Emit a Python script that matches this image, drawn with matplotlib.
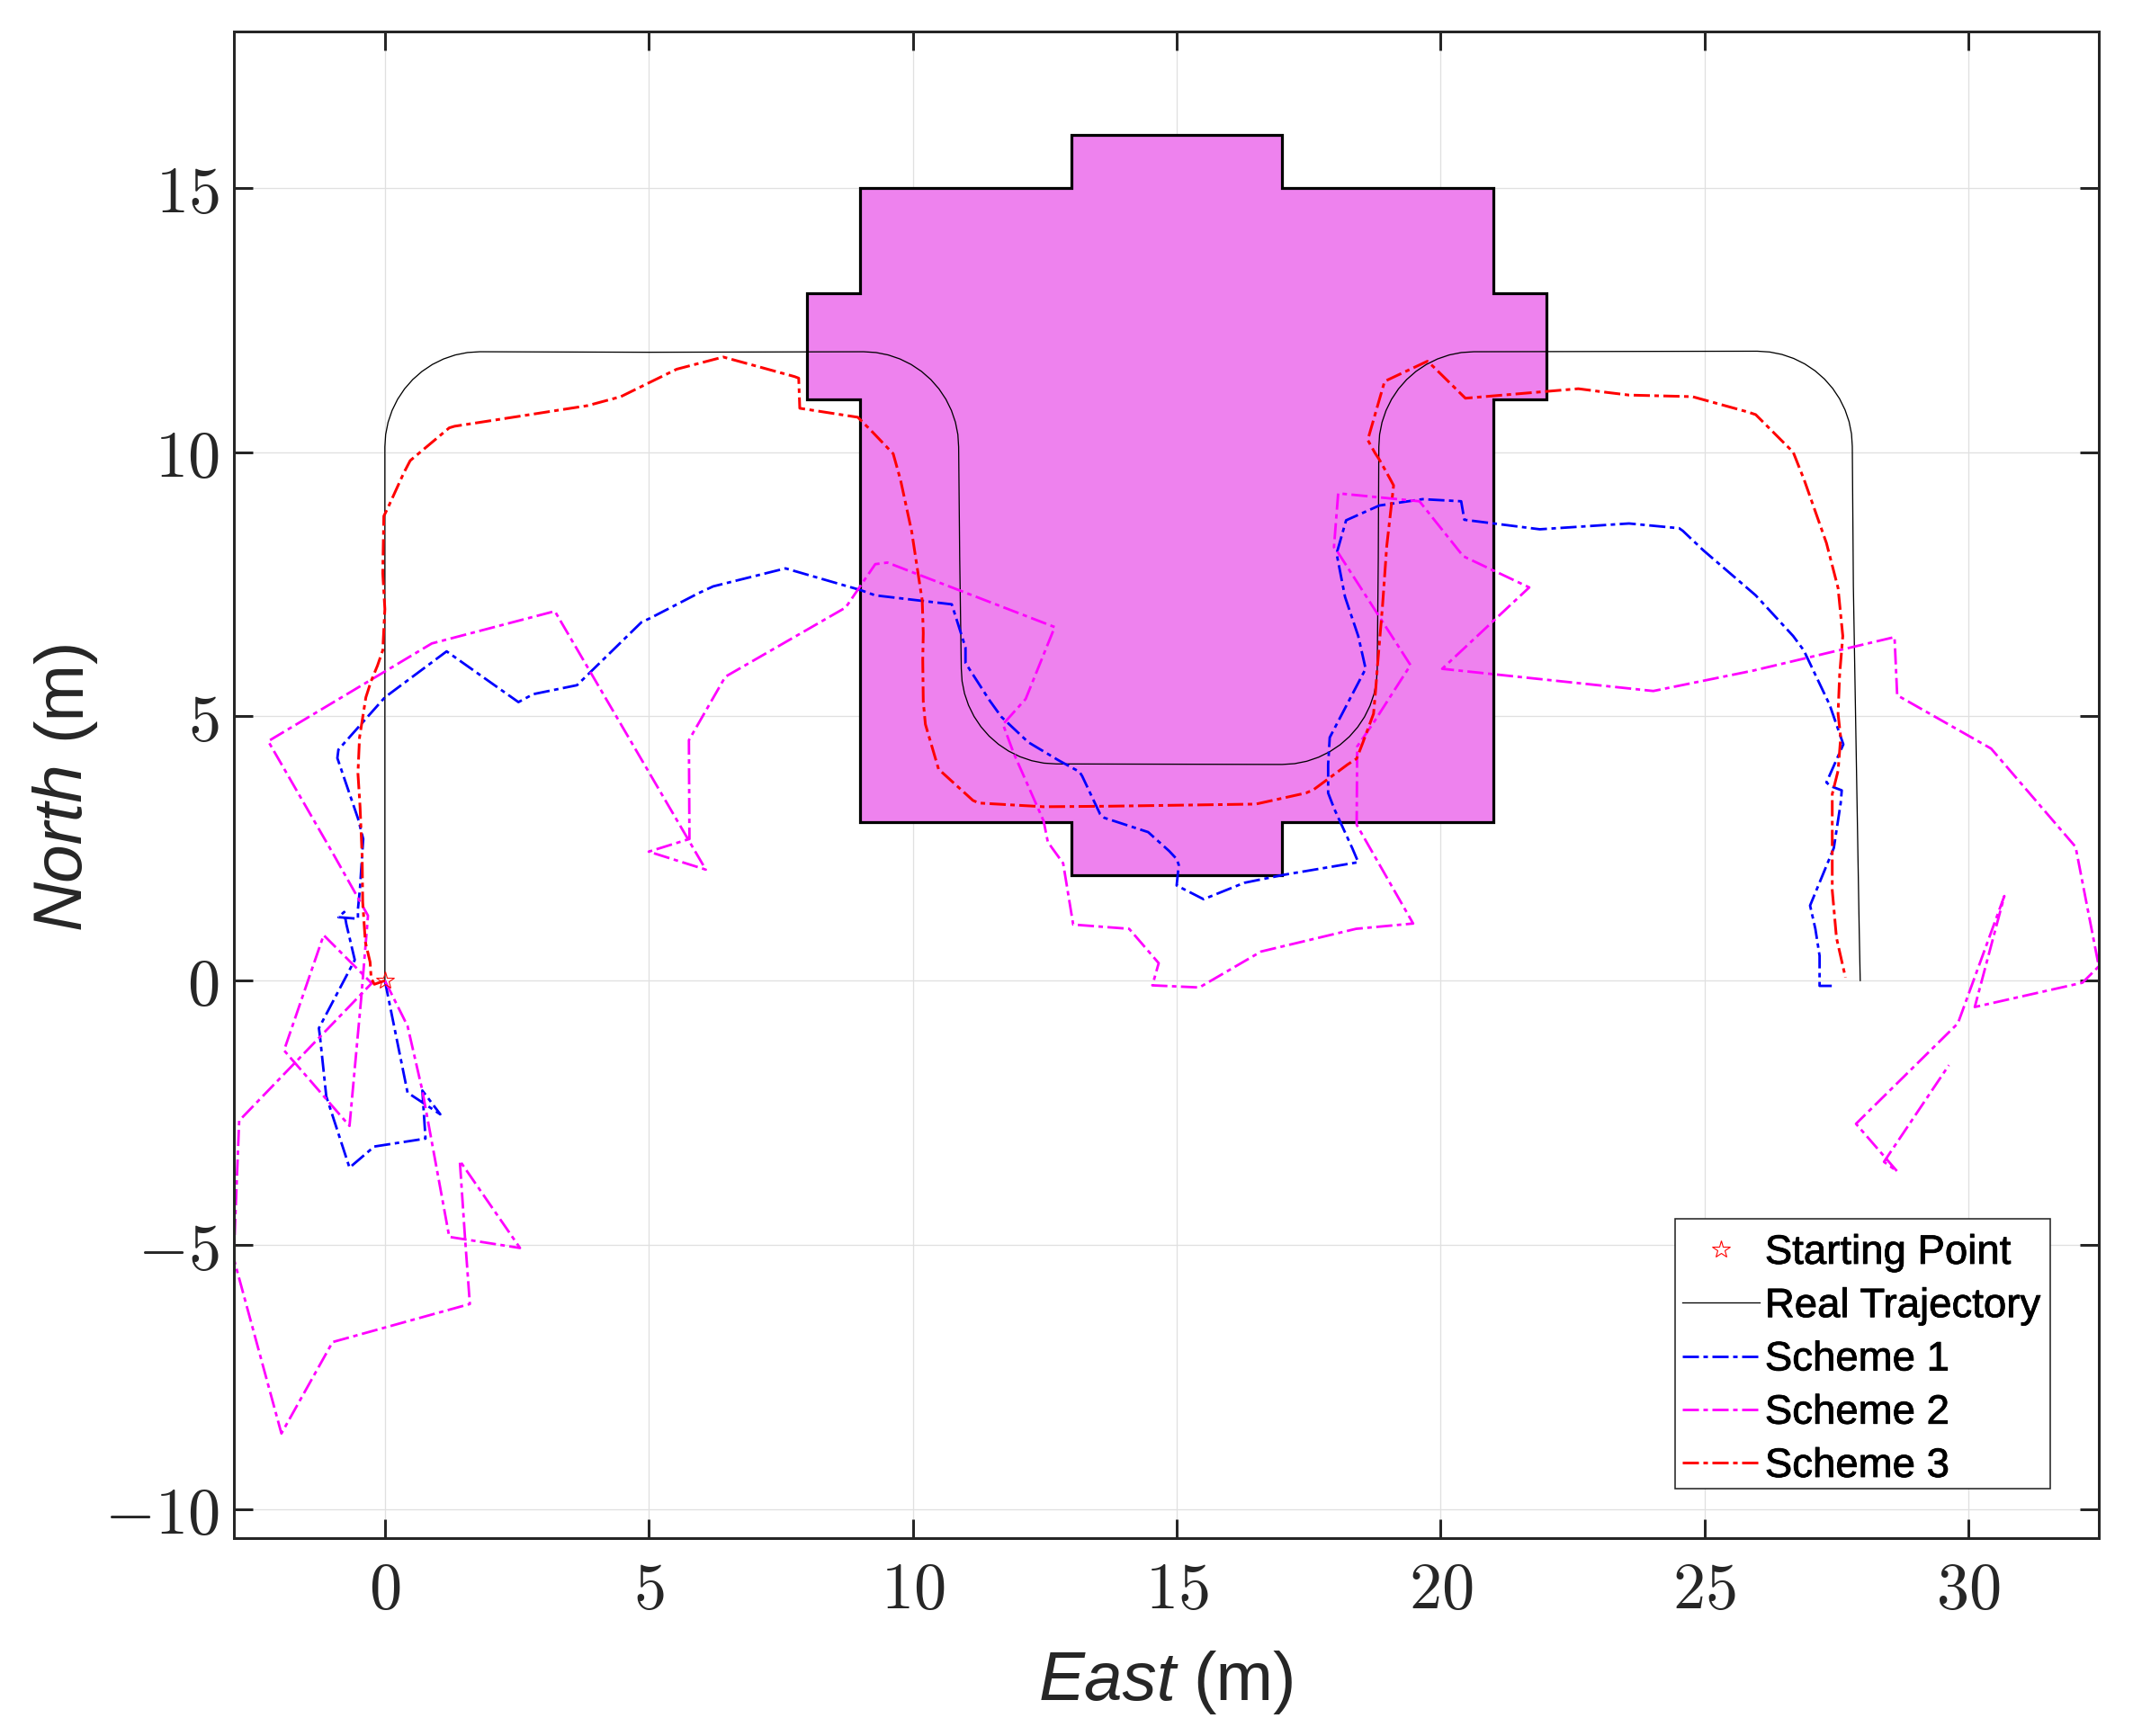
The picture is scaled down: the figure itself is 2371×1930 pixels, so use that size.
import matplotlib
matplotlib.use("Agg")
import matplotlib.pyplot as plt
from matplotlib.patches import Polygon, Rectangle
import matplotlib.patheffects as pe

plt.rcParams['mathtext.fontset'] = 'cm'
plt.rcParams['font.family'] = ['Liberation Sans', 'DejaVu Sans']
plt.rcParams['lines.scale_dashes'] = False

start_x = [0.0]
start_y = [0.0]

zone_x = [9, 13, 13, 17, 17, 21, 21, 22, 22, 21, 21, 17, 17, 13, 13, 9, 9, 8, 8, 9]
zone_y = [3, 3, 2, 2, 3, 3, 11, 11, 13, 13, 15, 15, 16, 16, 15, 15, 13, 13, 11, 11]

real_x = [0, 0, 0.015, 0.061, 0.137, 0.241, 0.372, 0.527, 0.704, 0.9, 1.111, 1.334, 1.565, 1.8, 5.0,
          9.07, 9.305, 9.536, 9.759, 9.97, 10.166, 10.343, 10.498, 10.629, 10.733, 10.809, 10.855, 10.87, 10.89,
          10.92, 10.935, 10.981, 11.057, 11.161, 11.292, 11.447, 11.624, 11.82, 12.031, 12.254, 12.485, 12.72,
          17.0, 17.235, 17.466, 17.689, 17.9, 18.096, 18.273, 18.428, 18.559, 18.663, 18.739, 18.785, 18.8, 18.82,
          18.83, 18.845, 18.891, 18.967, 19.071, 19.202, 19.357, 19.534, 19.73, 19.941, 20.164, 20.395, 20.63,
          26.0, 26.235, 26.466, 26.689, 26.9, 27.096, 27.273, 27.428, 27.559, 27.663, 27.739, 27.785, 27.8,
          27.82, 27.93, 27.95]
real_y = [0, 10.1, 10.335, 10.566, 10.789, 11.0, 11.196, 11.373, 11.528, 11.659, 11.763, 11.839, 11.885, 11.9, 11.89,
          11.9, 11.885, 11.839, 11.763, 11.659, 11.528, 11.373, 11.196, 11.0, 10.789, 10.566, 10.335, 10.1, 8.0,
          5.9, 5.665, 5.434, 5.211, 5.0, 4.804, 4.627, 4.472, 4.341, 4.237, 4.161, 4.115, 4.1,
          4.09, 4.105, 4.151, 4.227, 4.331, 4.462, 4.617, 4.794, 4.99, 5.201, 5.424, 5.655, 5.89, 8.0,
          10.1, 10.335, 10.566, 10.789, 11.0, 11.196, 11.373, 11.528, 11.659, 11.763, 11.839, 11.885, 11.9,
          11.91, 11.895, 11.849, 11.773, 11.669, 11.538, 11.383, 11.206, 11.01, 10.799, 10.576, 10.345, 10.11,
          7.47, 1.0, 0]

s1_x = [0, 0.43, 1.05, 0.71, 0.77, -0.2, -0.67, -1.11, -1.23, -1.25, -0.57, -0.73, -0.77, -0.88, -0.51, -0.51, -0.47,
        -0.41, -0.51, -0.9, -0.88, 0, 1.17, 2.53, 2.81, 3.64, 4.86, 5.03, 5.94, 6.22, 7.59, 9.01, 9.29, 10.74, 11.0,
        11.0, 11.45, 11.68, 12.19, 12.76, 13.16, 13.21, 13.55, 13.63, 14.46, 14.86, 15.0, 15.04, 15.0, 15.51, 16.28,
        17.02, 18.44, 18.33, 17.99, 17.87, 17.87, 17.9, 18.58, 18.44, 18.19, 18.03, 18.21, 18.84, 19.66, 20.39, 20.45,
        21.88, 23.57, 24.52, 24.59, 24.98, 25.97, 26.68, 26.88, 27.37, 27.63, 27.31, 27.39, 27.6, 27.58, 27.45, 27.0,
        27.1, 27.18, 27.18, 27.49]
s1_y = [0, -2.12, -2.53, -2.08, -2.99, -3.14, -3.54, -2.19, -1.05, -0.9, 0.39, 1.07, 1.3, 1.2, 1.17, 1.35, 1.77,
        2.68, 3.07, 4.21, 4.37, 5.36, 6.23, 5.27, 5.42, 5.59, 6.78, 6.86, 7.33, 7.46, 7.8, 7.39, 7.29, 7.12, 6.3,
        6.01, 5.31, 4.99, 4.51, 4.17, 3.95, 3.87, 3.15, 3.08, 2.81, 2.45, 2.3, 2.19, 1.8, 1.54, 1.85,
        2.0, 2.24, 2.5, 3.24, 3.55, 4.09, 4.6, 5.9, 6.52, 7.26, 8.08, 8.71, 8.99, 9.11, 9.07, 8.72,
        8.54, 8.65, 8.56, 8.51, 8.14, 7.29, 6.52, 6.25, 5.22, 4.47, 3.75, 3.68, 3.6, 3.36, 2.51, 1.42,
        0.98, 0.47, -0.1, -0.1]

s2_x = [0, 0.43, 0.71, 0.85, 1.22, 2.56, 1.42, 1.52, 1.61, -0.99, -1.96, -2.86, -2.84, -2.76, -0.25, -1.16, -1.91,
        -0.67, -0.45, -0.34, -0.32, -0.45, -0.98, -2.21, 0.89, 3.22, 6.08, 5.0, 5.77, 5.76, 6.45, 8.73, 9.29, 9.52,
        12.69, 12.14, 11.71, 11.91, 12.48, 12.56, 12.85, 13.04, 14.1, 14.66, 14.54, 15.43, 16.6, 18.4, 19.48, 18.41,
        18.42, 18.73, 19.43, 18.05, 17.98, 18.06, 19.6, 20.43, 21.68, 20.03, 24.03, 25.94, 28.6, 28.65, 30.43, 32.03,
        32.47, 32.16, 30.12, 30.68, 29.8, 27.87, 28.65, 28.4, 29.63]
s2_y = [0, -0.86, -2.08, -2.84, -4.85, -5.06, -3.41, -4.89, -6.12, -6.84, -8.57, -5.27, -4.66, -2.65, -0.05, 0.86, -1.32,
        -2.75, -0.35, 0.98, 1.23, 1.46, 2.4, 4.53, 6.38, 6.99, 2.1, 2.44, 2.68, 4.55, 5.75, 7.06, 7.88, 7.91,
        6.69, 5.33, 4.85, 4.31, 3.02, 2.62, 2.22, 1.06, 0.98, 0.33, -0.09, -0.13, 0.55, 0.98, 1.08, 2.95,
        4.43, 4.88, 5.97, 8.11, 8.2, 9.22, 9.07, 8.03, 7.44, 5.9, 5.48, 5.87, 6.5, 5.4, 4.39, 2.53,
        0.27, -0.04, -0.5, 1.6, -0.81, -2.71, -3.61, -3.43, -1.6]

s3_x = [0, -0.2, -0.26, -0.28, -0.37, -0.42, -0.43, -0.47, -0.51, -0.48, -0.36, -0.26, -0.14, -0.04, 0, -0.04, -0.02,
        0.05, 0.36, 0.48, 1.22, 1.32, 2.49, 3.84, 4.47, 5.1, 5.53, 6.41, 7.76, 7.84, 7.86, 8.96, 9.2, 9.63, 9.77,
        9.98, 10.16, 10.18, 10.2, 10.19, 10.2, 10.24, 10.49, 11.14, 11.25, 12.48, 13.72, 16.5, 17.45, 17.59, 18.24,
        18.41, 18.53, 18.73, 18.77, 18.8, 18.9, 18.98, 19.11, 19.04, 18.84, 18.76, 18.62, 18.94, 19.75, 19.86, 20.47,
        22.61, 23.07, 23.57, 24.77, 25.82, 25.97, 26.68, 26.89, 27.31, 27.53, 27.62, 27.56, 27.53, 27.58, 27.53, 27.42,
        27.42, 27.5, 27.67]
s3_y = [0, -0.07, 0.05, 0.35, 0.73, 1.49, 2.34, 3.29, 3.92, 4.6, 5.36, 5.67, 5.96, 6.25, 7.03, 7.71, 8.79,
        8.93, 9.61, 9.84, 10.46, 10.49, 10.67, 10.88, 11.05, 11.36, 11.57, 11.8, 11.43, 11.4, 10.83, 10.66, 10.42, 9.97, 9.47,
        8.5, 7.32, 7.2, 6.58, 6.07, 5.28, 4.85, 4.0, 3.41, 3.36, 3.29, 3.3, 3.34, 3.55, 3.61, 4.09,
        4.2, 4.51, 5.05, 5.5, 5.9, 7.09, 8.22, 9.37, 9.5, 9.86, 9.98, 10.23, 11.34, 11.72, 11.62, 11.02,
        11.2, 11.14, 11.08, 11.05, 10.76, 10.71, 10.0, 9.47, 8.28, 7.43, 6.52, 5.79, 5.05, 4.6, 3.97, 3.53,
        1.71, 0.81, 0.06]

x_ticks = [0, 5, 10, 15, 20, 25, 30]
y_ticks = [-10, -5, 0, 5, 10, 15]
x_tick_labels = ['$0$', '$5$', '$10$', '$15$', '$20$', '$25$', '$30$']
y_tick_labels = ['$-10$', '$-5$', '$0$', '$5$', '$10$', '$15$']
legend_labels = ['Starting Point', 'Real Trajectory', 'Scheme 1', 'Scheme 2', 'Scheme 3']

W, H = 2371, 1931
PX = 0.72
fig = plt.figure(figsize=(W / 100, H / 100), dpi=100)
ax = fig.add_axes([260 / W, 1 - 1711 / H, (2333 - 260) / W, (1711 - 36) / H])
ax.set_xlim(-2.86, 32.47)
ax.set_ylim(-10.55, 17.96)

ax.set_axisbelow(True)
ax.grid(True, color='#e0e0e0', lw=1.3 * PX)
ax.add_patch(Polygon(list(zip(zone_x, zone_y)), closed=True, facecolor='#EE82EE',
                     edgecolor='black', lw=3.2 * PX, zorder=2))

dash = (0, (18 * PX, 5 * PX, 5 * PX, 5 * PX))
h0, = ax.plot(start_x, start_y, ls='none', marker='*', ms=20 * PX, mfc='none', mec='red', mew=1.1 * PX,
              zorder=6, label=legend_labels[0])
h1, = ax.plot(real_x, real_y, color='black', lw=1.3 * PX, zorder=3, label=legend_labels[1])
h2, = ax.plot(s1_x, s1_y, color='#0000ff', lw=2.8 * PX, ls=dash, zorder=4, label=legend_labels[2])
h3, = ax.plot(s2_x, s2_y, color='#ff00ff', lw=2.8 * PX, ls=dash, zorder=4, label=legend_labels[3])
h4, = ax.plot(s3_x, s3_y, color='#ff0000', lw=3.0 * PX, ls=dash, zorder=5, label=legend_labels[4])

ax.set_xticks(x_ticks)
ax.set_xticklabels(x_tick_labels)
ax.set_yticks(y_ticks)
ax.set_yticklabels(y_tick_labels)
ax.tick_params(axis='both', which='major', direction='in', top=True, right=True,
               length=21 * PX, width=3 * PX, color='#262626', labelcolor='#262626', labelsize=52)
ax.tick_params(axis='x', pad=18)
ax.tick_params(axis='y', pad=12)
for s in ax.spines.values():
    s.set_linewidth(3 * PX)
    s.set_color('#262626')
    s.set_zorder(8)

fig.text(1155 / W, 1 - 1871 / H, 'East', fontsize=55, style='italic', color='#262626', va='center', ha='left')
fig.text(1326 / W, 1 - 1871 / H, '(m)', fontsize=55, color='#262626', va='center', ha='left')
fig.text(69 / W, 1 - 940 / H, 'North', fontsize=55, style='italic', color='#262626', va='center', ha='center',
         rotation=90)
fig.text(69 / W, 1 - 765 / H, '(m)', fontsize=55, color='#262626', va='center', ha='center', rotation=90)

ax.add_patch(Rectangle((1862 / W, 1 - 1656 / H), (2279 - 1862) / W, (1656 - 1356) / H, transform=fig.transFigure,
                       facecolor='white', edgecolor='#262626', lw=1.6 * PX, zorder=9, clip_on=False))
leg = ax.legend(handles=[h0, h1, h2, h3, h4], loc='lower left',
                bbox_to_anchor=(1870 / W, 1 - 1653 / H), bbox_transform=fig.transFigure,
                prop={'size': 32.8}, frameon=False,
                handlelength=1.886, handletextpad=0.13, labelspacing=0.335, borderpad=0, borderaxespad=0,
                labelcolor='black')
leg.set_zorder(10)
for t in leg.get_texts():
    t.set_path_effects([pe.withStroke(linewidth=0.6, foreground='black')])

fig.savefig('out.png', dpi=100)
